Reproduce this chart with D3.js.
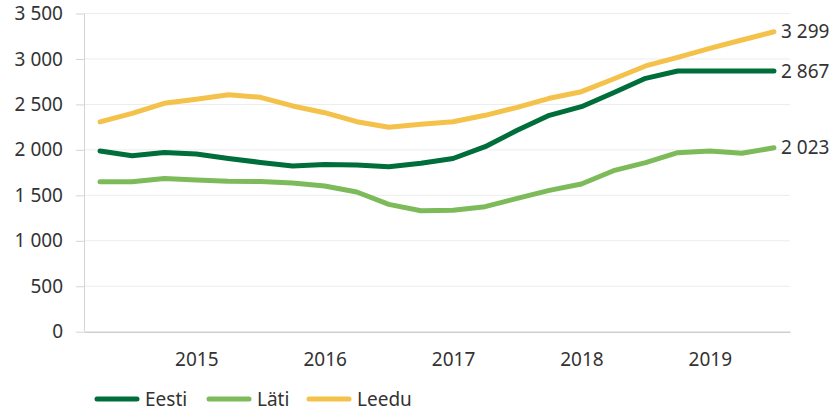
<!DOCTYPE html>
<html>

<head>
    <meta charset=utf-8 />
    <script src="https://cdn.jsdelivr.net/npm/d3@7"></script>
    <title>Eesti, Läti, Leedu</title>
    <style>
        html,
        body {
            margin: 0;
            padding: 0;
            background: #fff;
        }

        svg {
            display: block;
            font-family: "Noto Sans", sans-serif;
        }

        .line {
            fill: none;
            stroke-width: 5;
            stroke-linecap: round;
            stroke-linejoin: round;
        }
    </style>
</head>

<body>
    <svg width="833" height="412"></svg>
    <script>
        // quarterly points, 2014 Q2 .. 2019 Q3
        var quarters = [
            '2014 Q2', '2014 Q3', '2014 Q4',
            '2015 Q1', '2015 Q2', '2015 Q3', '2015 Q4',
            '2016 Q1', '2016 Q2', '2016 Q3', '2016 Q4',
            '2017 Q1', '2017 Q2', '2017 Q3', '2017 Q4',
            '2018 Q1', '2018 Q2', '2018 Q3', '2018 Q4',
            '2019 Q1', '2019 Q2', '2019 Q3'
        ];
        var yearLabels = ['2015', '2016', '2017', '2018', '2019'];
        var yTicks = [0, 500, 1000, 1500, 2000, 2500, 3000, 3500];

        var seriesNames = ['Eesti', 'Läti', 'Leedu'];
        var seriesColors = ['#006e3b', '#7dbb5a', '#f4c14a'];

        var eesti = [1988, 1936, 1972, 1955, 1905, 1862, 1822, 1838, 1834, 1815, 1852, 1905,
            2035, 2215, 2380, 2475, 2629, 2787, 2867, 2867, 2867, 2867];
        var lati = [1650, 1650, 1685, 1668, 1654, 1652, 1636, 1603, 1537, 1401, 1331, 1335,
            1375, 1467, 1555, 1625, 1771, 1859, 1969, 1988, 1962, 2023];
        var leedu = [2308, 2402, 2512, 2556, 2607, 2578, 2483, 2409, 2310, 2248, 2283, 2310,
            2380, 2468, 2567, 2640, 2780, 2923, 3018, 3117, 3209, 3299];

        var seriesValues = [eesti, lati, leedu];

        var margin = { top: 14, right: 43, bottom: 80, left: 84 };
        var width = 833, height = 412;
        var fontSize = '19px';
        var svg = d3.select('svg');

        var locale = d3.formatLocale({ decimal: ',', thousands: '\u00a0', grouping: [3], currency: ['', ' €'] });
        var fmt = locale.format(',d');

        var x = d3.scalePoint()
            .domain(quarters)
            .range([margin.left, width - margin.right])
            .padding(0.5);

        var y = d3.scaleLinear()
            .domain([0, 3500])
            .range([height - margin.bottom - 0.3, margin.top - 0.5]);

        // gridlines
        svg.append('g')
            .selectAll('line')
            .data(yTicks.slice(1))
            .enter().append('line')
            .attr('x1', margin.left)
            .attr('x2', width - margin.right)
            .attr('y1', function (d) { return y(d); })
            .attr('y2', function (d) { return y(d); })
            .attr('stroke', '#ececec')
            .attr('stroke-width', 1);

        // y axis
        var yAxis = svg.append('g')
            .attr('transform', 'translate(' + margin.left + ',0)')
            .call(d3.axisLeft(y).tickValues(yTicks).tickFormat(fmt).tickSize(8).tickPadding(13));
        yAxis.select('.domain').attr('stroke', '#d4d4d4').attr('d', 'M0.5,' + y(0) + 'V' + y(3500));
        yAxis.selectAll('.tick line').attr('stroke', '#d4d4d4');
        yAxis.attr('font-size', null).attr('font-family', null);
        yAxis.selectAll('.tick text')
            .attr('fill', '#333')
            .style('font-size', fontSize);

        // x axis, year label on the first quarter of each year
        var xAxis = svg.append('g')
            .attr('transform', 'translate(0,' + y(0) + ')')
            .call(d3.axisBottom(x)
                .tickValues(yearLabels.map(function (yr) { return yr + ' Q1'; }))
                .tickFormat(function (d) { return d.slice(0, 4); })
                .tickSize(0).tickPadding(21));
        xAxis.select('.domain').attr('stroke', '#cfcfcf').attr('stroke-width', 1.5);
        xAxis.attr('font-size', null).attr('font-family', null);
        xAxis.selectAll('.tick text')
            .attr('fill', '#333')
            .style('font-size', fontSize);

        var line = d3.line()
            .x(function (d, i) { return x(quarters[i]); })
            .y(function (d) { return y(d); });

        // draw in order Läti, Eesti, Leedu
        [1, 0, 2].forEach(function (s) {
            svg.append('path')
                .attr('class', 'line')
                .attr('d', line(seriesValues[s]))
                .attr('stroke', seriesColors[s]);
        });

        // end labels
        svg.append('g')
            .selectAll('text')
            .data(seriesValues)
            .enter().append('text')
            .attr('x', x(quarters[quarters.length - 1]) + 7)
            .attr('y', function (d) { return y(d[d.length - 1]); })
            .attr('dy', '0.35em')
            .attr('fill', '#333')
            .style('font-size', fontSize)
            .text(function (d) { return fmt(d[d.length - 1]); });

        // legend
        var legendX = [95, 207, 307];
        var legend = svg.append('g')
            .selectAll('g')
            .data(seriesNames)
            .enter().append('g')
            .attr('transform', function (d, i) { return 'translate(' + legendX[i] + ',399)'; });
        legend.append('line')
            .attr('x1', 2)
            .attr('x2', 42)
            .attr('stroke', function (d, i) { return seriesColors[i]; })
            .attr('stroke-width', 5)
            .attr('stroke-linecap', 'round');
        legend.append('text')
            .attr('x', 50)
            .attr('dy', '0.35em')
            .attr('fill', '#333')
            .style('font-size', fontSize)
            .text(function (d) { return d; });
    </script>
</body>

</html>
